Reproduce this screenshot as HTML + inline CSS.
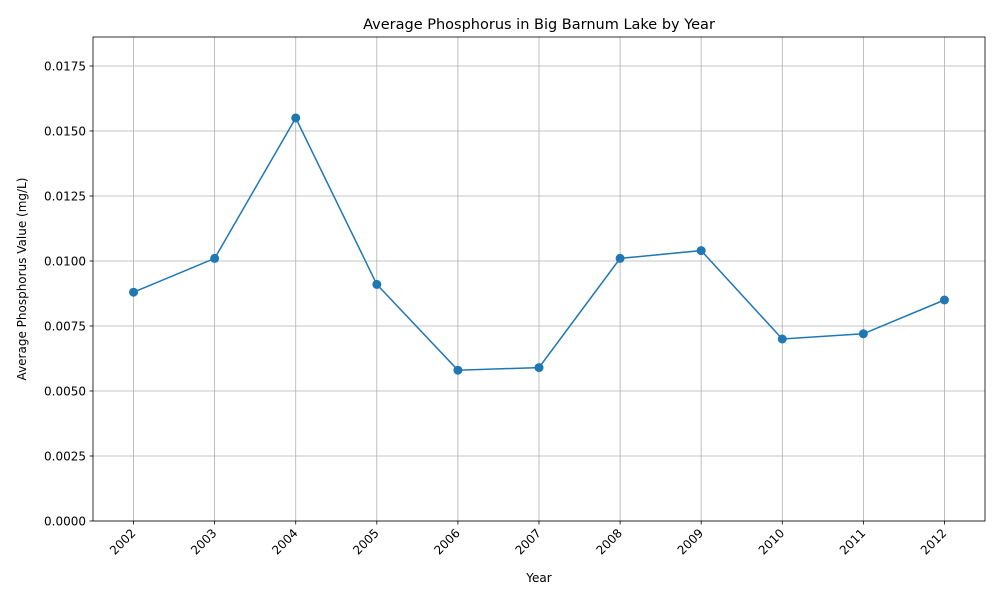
<!DOCTYPE html>
<html><head><meta charset="utf-8"><style>
body{margin:0;background:#fff;font-family:"Liberation Sans","DejaVu Sans",sans-serif}
</style></head><body>
<svg id="chart" width="1000" height="600" xmlns="http://www.w3.org/2000/svg" font-family="'DejaVu Sans','Liberation Sans',sans-serif">
<g id="grid"></g><g id="axes"></g><g id="series"></g>
</svg>
<script>
const years = [2002,2003,2004,2005,2006,2007,2008,2009,2010,2011,2012];
const phosphorus = [0.0088,0.0101,0.0155,0.0091,0.0058,0.0059,0.0101,0.0104,0.0070,0.0072,0.0085];
const yTicks = [0,0.0025,0.005,0.0075,0.01,0.0125,0.015,0.0175];
const yTickLabels = ["0.0000","0.0025","0.0050","0.0075","0.0100","0.0125","0.0150","0.0175"];

const L=93,R=985,T=37,B=521, xMin=2001.5,xMax=2012.5,yMin=0,yMax=0.018615;
const sx=v=>L+(v-xMin)/(xMax-xMin)*(R-L);
const sy=v=>B-(v-yMin)/(yMax-yMin)*(B-T);
const NS="http://www.w3.org/2000/svg";
function mk(tag,attrs,parent,text){const e=document.createElementNS(NS,tag);for(const k in attrs)e.setAttribute(k,attrs[k]);if(text!==undefined)e.textContent=text;parent.appendChild(e);return e;}
const grid=document.getElementById('grid'),axes=document.getElementById('axes'),series=document.getElementById('series');

years.forEach(y=>{
  const x=sx(y);
  const g=mk('line',{x1:x,x2:x,y1:T,y2:B,stroke:'#b0b0b0','stroke-width':0.8},grid);
  
  
  mk('line',{x1:x,x2:x,y1:B,y2:B+3.5,stroke:'#000','stroke-width':0.8},axes);
  const t=mk('text',{x:x,y:B+14,'font-size':12,'text-anchor':'end',transform:`rotate(-45 ${x} ${B+10})`},axes,String(y));
  
  
});
yTicks.forEach((v,i)=>{
  const y=sy(v);
  const g=mk('line',{x1:L,x2:R,y1:y,y2:y,stroke:'#b0b0b0','stroke-width':0.8},grid);
  
  
  mk('line',{x1:L-3.5,x2:L,y1:y,y2:y,stroke:'#000','stroke-width':0.8},axes);
  const t=mk('text',{x:L-7,y:y+4.5,'font-size':12,'text-anchor':'end'},axes,yTickLabels[i]);
  
  
});
const frame=mk('rect',{x:L,y:T,width:R-L,height:B-T,fill:'none',stroke:'#000','stroke-width':0.8},axes);


const title=mk('text',{x:(L+R)/2,y:T-8,'font-size':14.5,'text-anchor':'middle'},axes,'Average Phosphorus in Big Barnum Lake by Year');


const xt=mk('text',{x:(L+R)/2,y:582,'font-size':12,'text-anchor':'middle'},axes,'Year');


const yt=mk('text',{x:26,y:(T+B)/2,'font-size':12,'text-anchor':'middle',transform:`rotate(-90 26 ${(T+B)/2})`},axes,'Average Phosphorus Value (mg/L)');



const pts=years.map((y,i)=>sx(y)+','+sy(phosphorus[i])).join(' ');
const line=mk('polyline',{points:pts,fill:'none',stroke:'#1f77b4','stroke-width':1.5},series);


years.forEach((y,i)=>{
  const c=mk('circle',{cx:sx(y),cy:sy(phosphorus[i]),r:4.5,fill:'#1f77b4'},series);
  
  
});
</script>
</body></html>
